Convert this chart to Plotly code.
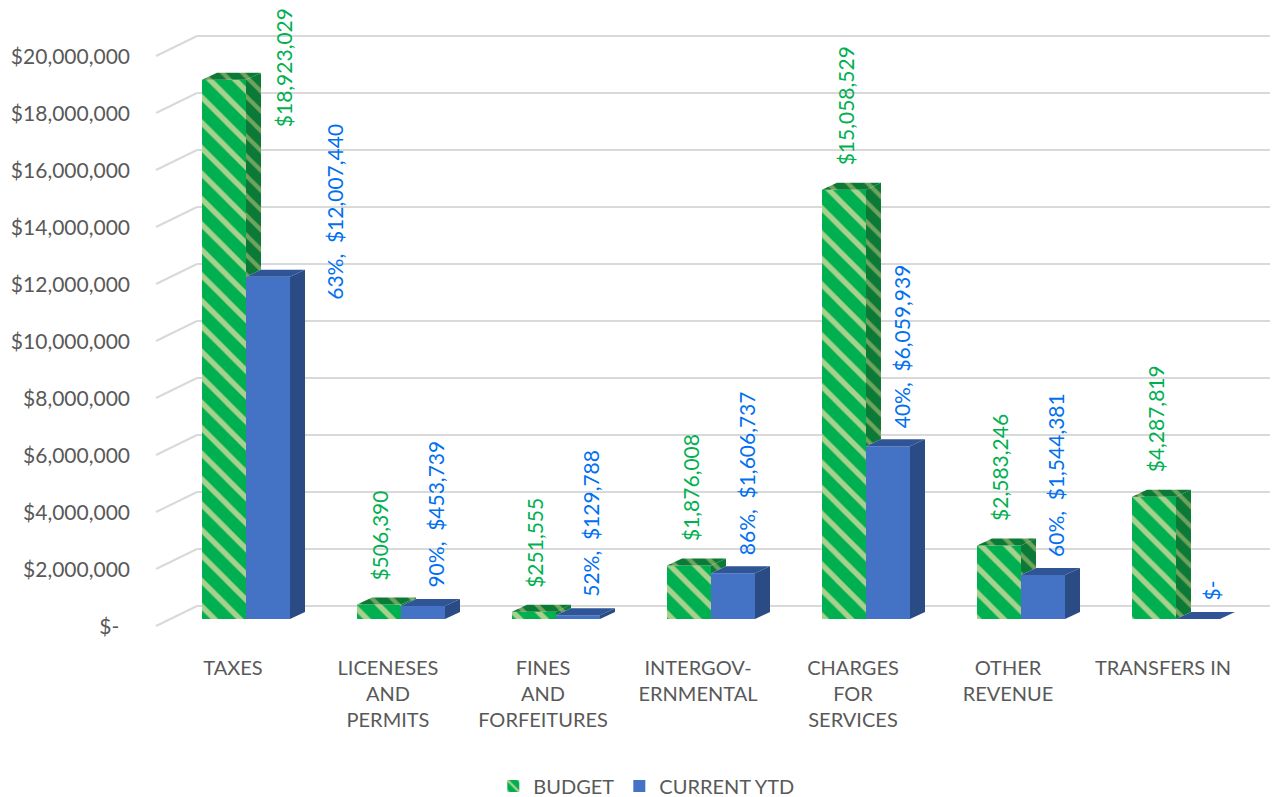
import plotly.graph_objects as go

# ---------------- data ----------------
categories = ["TAXES", "LICENESES<br>AND<br>PERMITS", "FINES<br>AND<br>FORFEITURES",
              "INTERGOV-<br>ERNMENTAL", "CHARGES<br>FOR<br>SERVICES", "OTHER<br>REVENUE",
              "TRANSFERS IN"]
budget = [18923029, 506390, 251555, 1876008, 15058529, 2583246, 4287819]
current_ytd = [12007440, 453739, 129788, 1606737, 6059939, 1544381, 0]
y_tickvals = [0, 2000000, 4000000, 6000000, 8000000, 10000000, 12000000,
              14000000, 16000000, 18000000, 20000000]
series_names = ["BUDGET", "CURRENT YTD"]

# ---------------- layout geometry ----------------
# the page body has an 8px margin, so the figure is 8px smaller than the window
W, H = 1270, 789
M_L, M_R, M_T, M_B = 142, 0, 12, 157
X_RANGE = [-0.6194, 6.6581]
Y_RANGE = [-0.737e6, 21.018e6]
plot_w = W - M_L - M_R
plot_h = H - M_T - M_B
px_x = plot_w / (X_RANGE[1] - X_RANGE[0])   # pixels per category unit
px_y = plot_h / (Y_RANGE[1] - Y_RANGE[0])   # pixels per dollar

def dx(p):
    return p / px_x

def dy(p):
    return p / px_y

BAR_W = dx(44)
DEPTH_X, DEPTH_Y = dx(15), dy(7)

FONT = "Lato"
GREEN = "#00B050"
GREEN_LIGHT = "#A9D18E"
GREEN_DARK = "#0B7A36"
GREEN_DARK_STRIPE = "#6FA35E"
BLUE = "#4472C4"
BLUE_TOP = "#2F5597"
BLUE_SIDE = "#2B4B85"
LABEL_BLUE = "#0070F0"
GRID = "#D9D9D9"
TEXT = "#595959"

idx = list(range(len(categories)))

fig = go.Figure()

fig.add_trace(go.Bar(
    x=idx, y=budget, name=series_names[0], width=BAR_W, offset=-BAR_W,
    marker=dict(color=GREEN, line=dict(width=0),
                pattern=dict(shape="\\", bgcolor=GREEN, fgcolor=GREEN_LIGHT,
                             size=18, solidity=0.3, fillmode="replace")),
    hoverinfo="skip"))
fig.add_trace(go.Bar(
    x=idx, y=current_ytd, name=series_names[1], width=BAR_W, offset=0,
    marker=dict(color=BLUE, line=dict(width=0)),
    hoverinfo="skip"))

def face(xs, ys, color, pattern=None):
    kw = dict(x=xs, y=ys, mode="lines", fill="toself", fillcolor=color,
              line=dict(width=0, color=color), showlegend=False, hoverinfo="skip")
    if pattern:
        kw["fillpattern"] = pattern
    fig.add_trace(go.Scatter(**kw))

dark_pat = dict(shape="\\", bgcolor=GREEN_DARK, fgcolor=GREEN_DARK_STRIPE, size=14, solidity=0.3,
                fillmode="replace")

for i in idx:
    c = i
    vb, vy = budget[i], current_ytd[i]
    # budget top face
    face([c - BAR_W, c, c + DEPTH_X, c - BAR_W + DEPTH_X, c - BAR_W],
         [vb, vb, vb + DEPTH_Y, vb + DEPTH_Y, vb], GREEN_DARK, dark_pat)
    # budget side face (visible part above the current bar)
    low = min(vy, vb)
    face([c, c + DEPTH_X, c + DEPTH_X, c, c],
         [vb, vb + DEPTH_Y, low + DEPTH_Y, low, vb], GREEN_DARK, dark_pat)
    # current top face
    face([c, c + BAR_W, c + BAR_W + DEPTH_X, c + DEPTH_X, c],
         [vy, vy, vy + DEPTH_Y, vy + DEPTH_Y, vy], BLUE_TOP)
    # current side face
    face([c + BAR_W, c + BAR_W + DEPTH_X, c + BAR_W + DEPTH_X, c + BAR_W, c + BAR_W],
         [vy, vy + DEPTH_Y, DEPTH_Y, 0, vy], BLUE_SIDE)

# ---------------- gridlines (back wall + left wall) ----------------
x_front = dx(156 - 246)
x_back = dx(197 - 246)
shapes = []
for v in y_tickvals:
    shapes.append(dict(type="line", xref="x", yref="y", x0=x_front, y0=v - dy(7),
                       x1=x_back, y1=v + dy(13), line=dict(color=GRID, width=2), layer="below"))
    shapes.append(dict(type="line", xref="x", yref="y", x0=x_back, y0=v + dy(13),
                       x1=X_RANGE[1], y1=v + dy(13), line=dict(color=GRID, width=2), layer="below"))

# ---------------- data labels ----------------
def money(v):
    return "$-\u00a0\u00a0" if v == 0 else "${:,.0f}".format(v)

# default label offsets (pixels) and per-label overrides to avoid collisions
BUD_XSHIFT, BUD_YSHIFT = 1, 22
CUR_XSHIFT, CUR_YSHIFT = 13, 16
label_overrides = {("BUDGET", 0): (59, -50), ("CURRENT YTD", 0): (67, -25)}

annotations = []
for i in idx:
    vb, vy = budget[i], current_ytd[i]
    xs, ys = label_overrides.get(("BUDGET", i), (BUD_XSHIFT, BUD_YSHIFT))
    annotations.append(dict(x=i - BAR_W / 2, y=vb, xref="x", yref="y", text=money(vb),
                            textangle=-90, showarrow=False, xanchor="center", yanchor="bottom",
                            xshift=xs, yshift=ys, font=dict(family=FONT, size=21, color=GREEN)))
    pct = "" if vy == 0 else "{:.0f}%,  ".format(vy / vb * 100)
    xs, ys = label_overrides.get(("CURRENT YTD", i), (CUR_XSHIFT, CUR_YSHIFT))
    annotations.append(dict(x=i + BAR_W / 2, y=vy, xref="x", yref="y", text=pct + money(vy),
                            textangle=-90, showarrow=False, xanchor="center", yanchor="bottom",
                            xshift=xs, yshift=ys, font=dict(family=FONT, size=21, color=LABEL_BLUE)))

y_ticktext = ["$-\u00a0\u00a0" if v == 0 else "${:,.0f}".format(v) for v in y_tickvals]

fig.update_layout(
    width=W, height=H,
    margin=dict(l=M_L, r=M_R, t=M_T, b=M_B, autoexpand=False),
    paper_bgcolor="white", plot_bgcolor="white",
    barmode="overlay",
    font=dict(family=FONT, size=21, color=TEXT),
    shapes=shapes, annotations=annotations,
    xaxis=dict(range=X_RANGE, tickvals=[i - dx(13) for i in idx], ticktext=categories,
               showgrid=False, zeroline=False, showline=False, ticks="",
               tickfont=dict(family=FONT, size=20, color=TEXT), ticklabelstandoff=14),
    yaxis=dict(range=Y_RANGE, tickvals=y_tickvals, ticktext=y_ticktext,
               showgrid=False, zeroline=False, showline=False, ticks="",
               tickfont=dict(family=FONT, size=21, color=TEXT),
               ticklabelstandoff=19, ticklabelshift=8),
    legend=dict(orientation="h", xref="container", yref="container", x=0.503, y=11 / 789,
                xanchor="center", yanchor="middle", font=dict(family=FONT, size=20, color=TEXT),
                itemwidth=30, traceorder="normal"),
    showlegend=True,
)

fig.write_html("out.html")
